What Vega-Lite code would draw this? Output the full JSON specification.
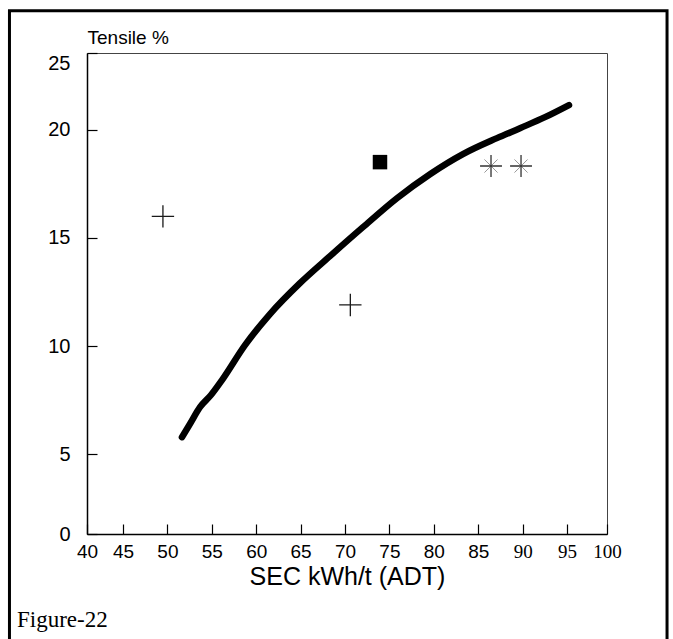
{
  "$schema": "https://vega.github.io/schema/vega-lite/v6.json",
  "width": 520,
  "height": 481,
  "autosize": {"type": "none"},
  "padding": {"left": 87, "top": 53, "right": 66, "bottom": 105},
  "background": "white",
  "config": {"view": {"stroke": "#444", "strokeWidth": 1}, "font": "Liberation Sans"},
  "title": {"text": "Figure-22", "orient": "bottom", "anchor": "start", "frame": "group", "font": "Liberation Serif", "fontSize": 23, "fontWeight": "normal", "color": "black", "dx": -70, "offset": 0, "dy": -41},
  "datasets": {
    "curve": [
      {"SEC": 51.64, "Tensile": 5.78},
      {"SEC": 52.54, "Tensile": 6.39},
      {"SEC": 53.67, "Tensile": 7.17},
      {"SEC": 54.91, "Tensile": 7.73},
      {"SEC": 56.15, "Tensile": 8.42},
      {"SEC": 58.74, "Tensile": 10.04},
      {"SEC": 61.55, "Tensile": 11.48},
      {"SEC": 64.93, "Tensile": 12.91},
      {"SEC": 68.31, "Tensile": 14.16},
      {"SEC": 72.02, "Tensile": 15.5},
      {"SEC": 75.85, "Tensile": 16.84},
      {"SEC": 79.57, "Tensile": 17.95},
      {"SEC": 83.28, "Tensile": 18.88},
      {"SEC": 87.11, "Tensile": 19.62},
      {"SEC": 89.7, "Tensile": 20.08},
      {"SEC": 92.52, "Tensile": 20.59},
      {"SEC": 95.22, "Tensile": 21.15}
    ],
    "points": [
      {"SEC": 49.5, "Tensile": 16.0, "marker": "plus"},
      {"SEC": 70.6, "Tensile": 11.9, "marker": "plus"},
      {"SEC": 73.94, "Tensile": 18.51, "marker": "square"},
      {"SEC": 86.44, "Tensile": 18.33, "marker": "asterisk"},
      {"SEC": 89.82, "Tensile": 18.33, "marker": "asterisk"}
    ]
  },
  "layer": [
    {
      "data": {"values": [{}]},
      "mark": {"type": "rect", "filled": false, "color": "black", "strokeWidth": 3},
      "encoding": {
        "x": {"datum": 32.22, "type": "quantitative"},
        "x2": {"datum": 106.26},
        "y": {"datum": 25.51, "type": "quantitative"},
        "y2": {"datum": -4}
      }
    },
    {
      "data": {"name": "curve"},
      "mark": {"type": "line", "color": "black", "strokeWidth": 6.5, "interpolate": "monotone", "strokeCap": "round"},
      "encoding": {
        "x": {
          "field": "SEC", "type": "quantitative",
          "scale": {"domain": [40.95, 99.5], "nice": false, "zero": false},
          "axis": {
            "title": "SEC kWh/t (ADT)",
            "values": [40.95, 45, 50, 55, 60, 65, 70, 75, 80, 85, 90, 95, 99.5],
            "labelExpr": "datum.value < 42 ? '40' : datum.value > 98 ? '100' : datum.label",
            "tickSize": -10, "labelPadding": 18,
            "domainColor": "black", "domainWidth": 1.5, "tickColor": "black", "tickWidth": 1.2,
            "labelFont": {"condition": {"test": "datum.value >= 89", "value": "Liberation Serif"}, "value": "Liberation Sans"},
            "labelFontSize": 19, "labelColor": "black",
            "titleFont": "Liberation Sans", "titleFontSize": 25, "titleFontWeight": "normal", "titleColor": "black", "titlePadding": 3,
            "grid": false, "labelFlush": false, "labelOverlap": false
          }
        },
        "y": {
          "field": "Tensile", "type": "quantitative",
          "scale": {"domain": [1.3, 23.56], "nice": false, "zero": false},
          "axis": {
            "title": "Tensile %",
            "values": [1.3, 5, 10, 15, 20, 23.56],
            "labelExpr": "datum.value < 2 ? '0' : datum.value > 23 ? '25' : datum.label",
            "labelBaseline": {"condition": {"test": "datum.value > 23", "value": "top"}, "value": "middle"},
            "tickSize": -10, "labelPadding": 27,
            "domainColor": "black", "domainWidth": 1.5, "tickColor": "black", "tickWidth": 1.2,
            "labelFont": "Liberation Sans", "labelFontSize": 20, "labelColor": "black",
            "titleFont": "Liberation Sans", "titleFontSize": 19, "titleFontWeight": "normal", "titleColor": "black",
            "titleAngle": 0, "titleAlign": "left", "titleBaseline": "middle", "titleX": 0, "titleY": -16,
            "grid": false, "labelFlush": false, "labelOverlap": false
          }
        }
      }
    },
    {
      "data": {"name": "points"},
      "transform": [{"filter": "datum.marker == 'plus'"}],
      "mark": {"type": "point", "shape": "M-1,0H1M0,-1V1", "size": 500, "filled": false, "color": "#1a1a1a", "strokeWidth": 1.3, "opacity": 1},
      "encoding": {"x": {"field": "SEC", "type": "quantitative"}, "y": {"field": "Tensile", "type": "quantitative"}}
    },
    {
      "data": {"name": "points"},
      "transform": [{"filter": "datum.marker == 'square'"}],
      "mark": {"type": "square", "size": 210, "filled": true, "color": "black", "opacity": 1},
      "encoding": {"x": {"field": "SEC", "type": "quantitative"}, "y": {"field": "Tensile", "type": "quantitative"}}
    },
    {
      "data": {"name": "points"},
      "transform": [{"filter": "datum.marker == 'asterisk'"}],
      "mark": {"type": "point", "shape": "M-0.6,-0.6L0.6,0.6M-0.6,0.6L0.6,-0.6", "size": 480, "filled": false, "color": "#999", "strokeWidth": 1, "opacity": 1},
      "encoding": {"x": {"field": "SEC", "type": "quantitative"}, "y": {"field": "Tensile", "type": "quantitative"}}
    },
    {
      "data": {"name": "points"},
      "transform": [{"filter": "datum.marker == 'asterisk'"}],
      "mark": {"type": "point", "shape": "M-1,0H1M0,-1V1", "size": 480, "filled": false, "color": "#333", "strokeWidth": 1.3, "opacity": 1},
      "encoding": {"x": {"field": "SEC", "type": "quantitative"}, "y": {"field": "Tensile", "type": "quantitative"}}
    }
  ]
}
